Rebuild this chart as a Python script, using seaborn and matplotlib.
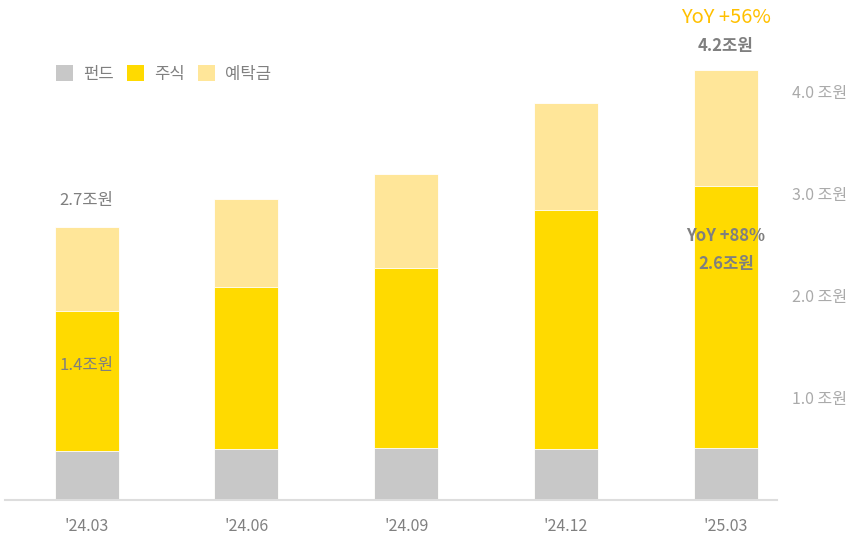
import matplotlib
matplotlib.use("Agg")
import matplotlib.pyplot as plt
import seaborn as sns
import pandas as pd
import numpy as np
from matplotlib.patches import Patch

sns.set_theme(style="white")
plt.rcParams['font.family'] = ['Noto Sans CJK KR', 'DejaVu Sans']

# data (조원)
quarters = ["'24.03", "'24.06", "'24.09", "'24.12", "'25.03"]
fund = [0.48, 0.50, 0.51, 0.50, 0.51]
stock = [1.37, 1.59, 1.76, 2.34, 2.57]
deposit = [0.83, 0.86, 0.92, 1.05, 1.13]
yticks = [1.0, 2.0, 3.0, 4.0]
series_names = ["펀드", "주식", "예탁금"]

c_fund = "#C8C8C8"
c_stock = "#FFDA00"
c_dep = "#FFE699"

df = pd.DataFrame({"q": quarters, "fund": fund, "stock": stock, "deposit": deposit})
df["fs"] = df["fund"] + df["stock"]
df["total"] = df["fs"] + df["deposit"]

fig = plt.figure(figsize=(8.52, 5.35), dpi=100)
ax = fig.add_axes([0.006, 0.0654, 0.906, 0.9346])

# stacked look: draw cumulative totals over each other
sns.barplot(data=df, x="q", y="total", color=c_dep, width=0.4, ax=ax, saturation=1)
sns.barplot(data=df, x="q", y="fs", color=c_stock, width=0.4, ax=ax, saturation=1)
sns.barplot(data=df, x="q", y="fund", color=c_fund, width=0.4, ax=ax, saturation=1)
for p in ax.patches:
    p.set_edgecolor("white")
    p.set_linewidth(0.6)

ax.set_xlim(-0.51, 4.32)
ax.set_ylim(0, 4.9)
ax.set_xlabel("")
ax.set_ylabel("")

ax.yaxis.tick_right()
ax.set_yticks(yticks)
ax.set_yticklabels([f"{v:.1f} 조원" for v in yticks], color="#AAAAAA", fontsize=11.5)
ax.tick_params(axis="y", length=0, pad=11)
ax.tick_params(axis="x", length=0, pad=13, labelsize=11.5, labelcolor="#808080")

for s in ["top", "left", "right"]:
    ax.spines[s].set_visible(False)
ax.spines["bottom"].set_color("#DDDDDD")
ax.spines["bottom"].set_linewidth(1.5)

# annotations
gray = "#7F7F7F"
ax.text(0, df["total"][0] + 0.26, "2.7조원", ha="center", va="center", color=gray, fontsize=12)
ax.text(0, 1.32, "1.4조원", ha="center", va="center", color=gray, fontsize=12)
ax.text(4, 2.59, "YoY +88%", ha="center", va="center", color=gray, fontsize=12, fontweight="bold")
ax.text(4, 2.31, "2.6조원", ha="center", va="center", color=gray, fontsize=12, fontweight="bold")
ax.text(4, 4.45, "4.2조원", ha="center", va="center", color=gray, fontsize=12, fontweight="bold")
ax.text(4, 4.73, "YoY +56%", ha="center", va="center", color="#FFC000", fontsize=14.5)

handles = [Patch(facecolor=c, edgecolor="none") for c in [c_fund, c_stock, c_dep]]
leg = ax.legend(handles, series_names, loc="center left", bbox_to_anchor=(0.047, 0.852),
                ncol=3, frameon=False, fontsize=12, handlelength=1.0, handleheight=1.1,
                handletextpad=0.6, columnspacing=0.8, labelcolor="#808080")

fig.savefig("out.png", dpi=100)
